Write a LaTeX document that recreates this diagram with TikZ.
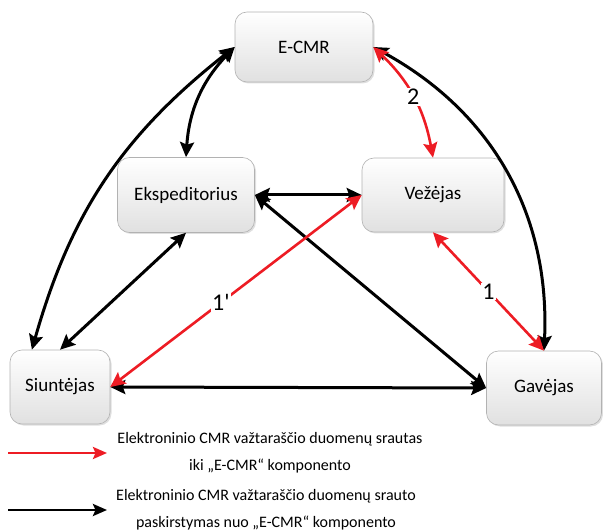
\documentclass[tikz,border=0pt]{standalone}
\usepackage{fontspec}
\setmainfont{Carlito}
\usepackage{xcolor}
\usetikzlibrary{arrows.meta,shadows}
\definecolor{cmrred}{RGB}{237,28,36}

\begin{document}
\begin{tikzpicture}[
  x=1pt,y=1pt,
  font=\fontsize{19}{22}\selectfont,
  party/.style={draw=black!30,line width=0.6pt,rounded corners=12pt,align=center,inner sep=4pt,
    top color=white,bottom color=black!12,
    drop shadow={opacity=0.25,shadow xshift=1.5pt,shadow yshift=-1.5pt}},
  flow/.style={line width=3pt,{Stealth[length=15pt,width=14pt,inset=2.5pt]}-{Stealth[length=15pt,width=14pt,inset=2.5pt]}},
  ecmrflow/.style={flow,draw=cmrred,line width=2.6pt},
  num/.style={fill=white,inner sep=1pt,font=\fontsize{24}{26}\selectfont},
  legend/.style={align=center,font=\fontsize{16}{27}\selectfont}
]
\useasboundingbox (0,0) rectangle (603,531);

\node[party,minimum width=138pt,minimum height=70pt] (ecmr) at (304,484) {E-CMR};
\node[party,minimum width=137pt,minimum height=75pt] (eksp) at (186,336) {Ekspeditorius};
\node[party,minimum width=142pt,minimum height=74pt] (vez) at (433,336) {Vežėjas};
\node[party,minimum width=100pt,minimum height=74pt] (siunt) at (60,144) {Siuntėjas};
\node[party,minimum width=115pt,minimum height=74pt] (gav) at (544,143) {Gavėjas};

% paskirstymas nuo E-CMR
\draw[flow] (ecmr.west) to[bend right=18] (siunt.127);
\draw[flow] (ecmr.west) to[bend right=20] (eksp.north);
\draw[flow] (eksp.south) -- (siunt.north);
\draw[flow] (eksp.east) -- (vez.west);
\draw[flow] (eksp.east) -- (gav.west);
\draw[flow] (siunt.east) -- (gav.west);
\draw[flow] (ecmr.east) to[bend left=32] (gav.north);

% srautai iki E-CMR
\draw[ecmrflow] (siunt.east) -- node[num,pos=0.44] {1\textquotesingle} (vez.west);
\draw[ecmrflow] (vez.south) -- node[num] {1} (gav.north);
\draw[ecmrflow] (ecmr.east) to[bend left=18] node[num] {2} (vez.north);

% legenda
\coordinate (redA) at (8,78);
\coordinate (redB) at (107,78);
\coordinate (blkA) at (8,21);
\coordinate (blkB) at (107,21);
\draw[cmrred,line width=2.6pt,-{Stealth[length=14pt,width=12pt,inset=2.5pt]}] (redA) -- (redB);
\draw[line width=2.8pt,-{Stealth[length=14pt,width=12pt,inset=2.5pt]}] (blkA) -- (blkB);
\node[legend] (redtxt) at (270,78) {Elektroninio CMR važtaraščio duomenų srautas\\iki „E-CMR“ komponento};
\node[legend] (blktxt) at (266,21) {Elektroninio CMR važtaraščio duomenų srauto\\paskirstymas nuo „E-CMR“ komponento};
\end{tikzpicture}
\end{document}
